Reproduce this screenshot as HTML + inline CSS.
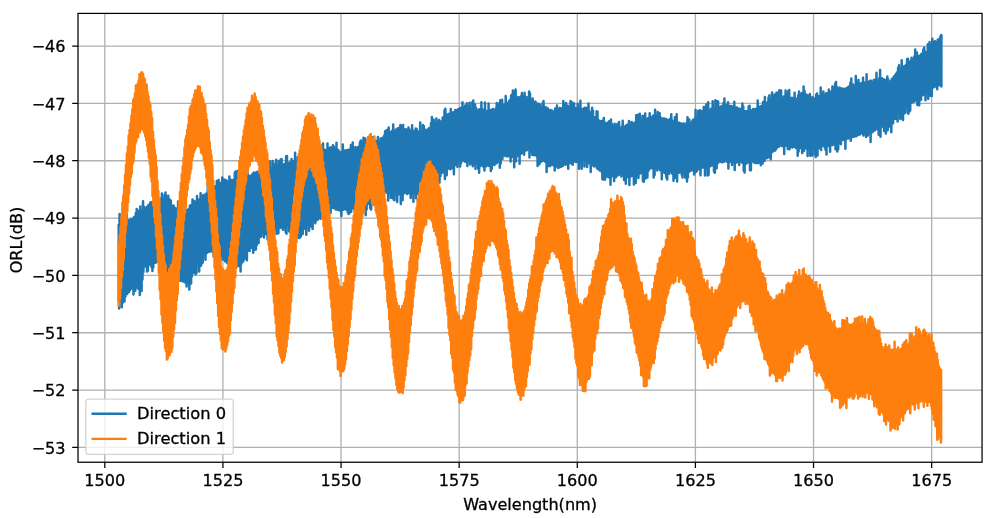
<!DOCTYPE html>
<html><head><meta charset="utf-8"><title>ORL vs Wavelength</title>
<style>html,body{margin:0;padding:0;background:#fff;overflow:hidden}svg{display:block}text{font-family:"DejaVu Sans","Liberation Sans",sans-serif;font-size:16.1px;fill:#000;stroke:#000;stroke-width:0.3px;stroke-linejoin:round}</style></head><body>
<svg width="991" height="518" viewBox="0 0 991 518">
<rect width="991" height="518" fill="#fff"/>
<defs><clipPath id="ax"><rect x="78.00" y="13.40" width="904.07" height="448.85"/></clipPath></defs>
<path d="M104.80 13.40V462.25M222.92 13.40V462.25M341.05 13.40V462.25M459.17 13.40V462.25M577.29 13.40V462.25M695.41 13.40V462.25M813.53 13.40V462.25M931.66 13.40V462.25M78.00 447.40H982.07M78.00 390.07H982.07M78.00 332.73H982.07M78.00 275.40H982.07M78.00 218.07H982.07M78.00 160.74H982.07M78.00 103.40H982.07M78.00 46.07H982.07" stroke="#b0b0b0" stroke-width="1.3" fill="none"/>
<g clip-path="url(#ax)" fill="none" stroke-linejoin="round" stroke-linecap="round" stroke-width="2.5">
<path d="M118.7 301.2L118.7 224.9 119.1 308.6 119.6 214.0 120.0 298.4 120.5 222.1 120.9 301.1 121.4 220.8 121.8 307.2 122.3 222.4 122.7 302.4 123.2 221.3 123.6 297.1 124.1 221.2 124.5 301.4 125.0 216.9 125.4 296.4 125.9 221.1 126.3 293.3 126.8 214.5 127.2 294.1 127.7 220.1 128.1 290.7 128.6 220.7 129.0 291.9 129.5 219.9 129.9 290.3 130.4 222.2 130.8 287.7 131.3 219.1 131.7 288.6 132.2 219.5 132.6 286.9 133.1 218.9 133.5 294.6 134.0 217.1 134.4 287.2 134.9 220.6 135.3 290.8 135.8 213.0 136.2 287.3 136.7 209.1 137.1 287.5 137.6 211.8 138.0 288.5 138.5 213.8 138.9 289.1 139.4 210.1 139.8 294.9 140.3 206.5 140.7 288.2 141.2 211.4 141.6 291.0 142.1 211.1 142.5 279.5 143.0 201.2 143.4 272.3 143.9 206.7 144.3 264.5 144.8 208.5 145.2 266.3 145.7 209.1 146.1 266.7 146.6 207.1 147.0 271.4 147.5 207.9 147.9 270.7 148.4 205.0 148.8 264.9 149.3 206.2 149.7 264.4 150.2 202.6 150.6 264.5 151.1 204.1 151.5 266.9 152.0 202.0 152.4 270.9 152.9 203.2 153.3 267.3 153.8 201.3 154.2 262.3 154.7 203.0 155.1 262.7 155.6 201.3 156.0 262.5 156.5 200.3 156.9 260.8 157.4 200.7 157.8 260.6 158.3 201.2 158.7 262.0 159.2 199.7 159.6 270.3 160.1 198.8 160.5 269.0 161.0 200.1 161.4 265.2 161.9 193.5 162.3 265.8 162.8 198.7 163.2 265.2 163.7 198.7 164.1 271.5 164.6 194.7 165.0 267.2 165.5 192.6 165.9 268.4 166.4 200.4 166.8 271.0 167.3 196.0 167.7 276.8 168.2 195.8 168.6 270.6 169.1 198.7 169.5 271.4 170.0 203.8 170.4 271.0 170.9 200.6 171.3 272.9 171.8 205.8 172.2 278.7 172.7 206.3 173.1 273.0 173.6 205.6 174.0 274.8 174.5 209.2 174.9 273.3 175.4 207.9 175.8 275.1 176.3 209.8 176.7 276.4 177.2 209.7 177.6 276.3 178.1 201.5 178.5 277.5 179.0 210.8 179.4 277.4 179.9 209.4 180.3 280.9 180.8 210.2 181.2 280.6 181.7 211.3 182.1 277.2 182.6 214.0 183.0 281.6 183.5 203.8 183.9 280.7 184.4 213.2 184.8 281.5 185.3 210.3 185.7 283.0 186.2 211.0 186.6 286.5 187.1 209.8 187.5 282.6 188.0 209.5 188.4 282.1 188.9 209.1 189.3 289.6 189.8 205.8 190.2 280.2 190.7 205.2 191.1 283.6 191.6 205.6 192.0 276.2 192.5 199.6 192.9 272.9 193.4 206.8 193.8 272.6 194.3 200.9 194.7 271.2 195.2 203.2 195.6 274.3 196.1 202.7 196.5 273.1 197.0 196.1 197.4 263.9 197.9 199.7 198.3 263.9 198.8 199.4 199.2 271.6 199.7 199.3 200.1 257.8 200.6 193.2 201.0 265.7 201.5 196.5 201.9 263.6 202.4 196.5 202.8 262.5 203.3 195.0 203.7 252.8 204.2 195.3 204.6 254.1 205.1 194.7 205.5 259.8 206.0 194.1 206.4 252.9 206.9 192.6 207.3 252.7 207.8 183.9 208.2 251.0 208.7 190.0 209.1 251.7 209.6 190.7 210.0 250.3 210.5 192.2 210.9 251.3 211.4 187.3 211.8 251.6 212.3 180.5 212.7 249.9 213.2 188.0 213.6 256.5 214.1 187.7 214.5 253.2 215.0 186.8 215.4 261.1 215.9 186.1 216.3 261.7 216.8 181.1 217.2 261.1 217.7 187.8 218.1 260.9 218.6 180.1 219.0 264.9 219.5 185.2 219.9 256.0 220.4 182.9 220.8 258.6 221.3 183.9 221.7 259.5 222.2 177.4 222.6 258.7 223.1 182.2 223.5 259.5 224.0 179.4 224.4 259.8 224.9 182.2 225.3 261.4 225.8 179.9 226.2 261.8 226.7 180.8 227.1 262.9 227.6 183.0 228.0 261.8 228.5 181.7 228.9 272.3 229.4 176.6 229.8 262.9 230.3 179.9 230.7 271.8 231.2 180.1 231.6 262.5 232.1 182.5 232.5 270.9 233.0 179.9 233.4 262.4 233.9 179.5 234.3 264.4 234.8 172.5 235.2 265.0 235.7 171.4 236.1 267.8 236.6 178.8 237.0 265.4 237.5 170.9 237.9 265.7 238.4 179.0 238.8 265.0 239.3 176.9 239.7 266.4 240.2 174.2 240.6 271.4 241.1 177.4 241.5 263.6 242.0 176.4 242.4 261.0 242.9 176.9 243.3 261.5 243.8 175.8 244.2 259.2 244.7 168.9 245.1 256.3 245.6 177.7 246.0 258.0 246.5 172.3 246.9 260.2 247.4 170.0 247.8 250.6 248.3 175.0 248.7 248.6 249.2 176.1 249.6 250.9 250.1 176.3 250.5 247.5 251.0 176.0 251.4 246.9 251.9 174.4 252.3 248.1 252.8 176.0 253.2 252.8 253.7 172.6 254.1 249.9 254.6 174.0 255.0 248.7 255.5 172.7 255.9 249.6 256.4 172.4 256.8 244.9 257.3 171.8 257.7 238.3 258.2 173.1 258.6 242.9 259.1 172.2 259.5 235.8 260.0 168.2 260.4 237.1 260.9 170.3 261.3 236.6 261.8 170.3 262.2 233.0 262.7 161.8 263.1 233.0 263.6 171.0 264.0 237.4 264.5 169.4 264.9 232.4 265.4 166.6 265.8 234.1 266.3 168.3 266.7 231.6 267.2 169.2 267.6 239.6 268.1 161.7 268.5 229.8 269.0 161.0 269.4 228.3 269.9 161.3 270.3 235.5 270.8 167.8 271.2 228.9 271.7 168.5 272.1 235.2 272.6 160.9 273.0 231.7 273.5 163.2 273.9 234.3 274.4 167.6 274.8 225.2 275.3 165.2 275.7 226.4 276.2 159.7 276.6 233.7 277.1 165.6 277.5 225.6 278.0 167.9 278.4 233.3 278.9 161.0 279.3 226.2 279.8 164.6 280.2 227.7 280.7 159.4 281.1 226.8 281.6 158.9 282.0 227.2 282.5 164.6 282.9 229.7 283.4 165.6 283.8 227.4 284.3 164.1 284.7 226.0 285.2 163.7 285.6 232.0 286.1 156.2 286.5 233.7 287.0 155.9 287.4 225.0 287.9 163.2 288.3 225.6 288.8 162.7 289.2 231.5 289.7 162.6 290.1 226.2 290.6 162.9 291.0 227.1 291.5 159.0 291.9 226.2 292.4 163.3 292.8 226.8 293.3 161.1 293.7 228.4 294.2 161.3 294.6 228.8 295.1 152.8 295.5 228.5 296.0 161.2 296.4 230.8 296.9 161.7 297.3 230.1 297.8 157.3 298.2 237.6 298.7 161.8 299.1 237.9 299.6 161.8 300.0 237.5 300.5 160.5 300.9 236.3 301.4 154.8 301.8 231.4 302.3 156.0 302.7 234.1 303.2 159.1 303.6 228.9 304.1 159.1 304.5 228.6 305.0 157.9 305.4 227.3 305.9 160.3 306.3 234.8 306.8 155.4 307.2 224.0 307.7 157.2 308.1 224.8 308.6 157.0 309.0 230.7 309.5 156.0 309.9 222.9 310.4 157.3 310.8 226.6 311.3 155.2 311.7 221.5 312.2 156.2 312.6 229.0 313.1 148.1 313.5 218.6 314.0 155.6 314.4 220.2 314.9 153.7 315.3 223.2 315.8 154.8 316.2 220.7 316.7 151.0 317.1 217.4 317.6 154.9 318.0 219.5 318.5 153.1 318.9 217.9 319.4 153.0 319.8 216.4 320.3 152.1 320.7 218.8 321.2 145.8 321.6 211.4 322.1 151.8 322.5 212.0 323.0 143.4 323.4 211.0 323.9 151.5 324.3 211.4 324.8 149.7 325.2 205.5 325.7 150.5 326.1 206.9 326.6 150.1 327.0 213.1 327.5 143.4 327.9 206.4 328.4 148.4 328.8 205.3 329.3 151.7 329.7 207.5 330.2 147.5 330.6 212.9 331.1 147.4 331.5 207.6 332.0 148.3 332.4 207.1 332.9 145.3 333.3 208.0 333.8 146.6 334.2 208.3 334.7 148.4 335.1 208.1 335.6 149.9 336.0 209.6 336.5 142.7 336.9 208.9 337.4 151.0 337.8 209.7 338.3 150.0 338.7 208.8 339.2 151.7 339.6 210.6 340.1 153.8 340.5 210.1 341.0 152.0 341.4 215.9 341.9 152.8 342.3 208.5 342.8 144.5 343.2 209.7 343.7 150.5 344.1 209.0 344.6 150.4 345.0 208.4 345.5 150.6 345.9 209.4 346.4 150.2 346.8 207.9 347.3 150.2 347.7 212.3 348.2 149.8 348.6 214.0 349.1 149.8 349.5 213.1 350.0 149.8 350.4 210.4 350.9 144.9 351.3 211.7 351.8 146.4 352.2 207.3 352.7 142.6 353.1 207.7 353.6 148.4 354.0 209.3 354.5 149.3 354.9 205.2 355.4 146.9 355.8 206.3 356.3 147.7 356.7 204.9 357.2 148.5 357.6 204.8 358.1 147.1 358.5 204.4 359.0 146.5 359.4 206.3 359.9 142.3 360.3 205.8 360.8 140.5 361.2 203.3 361.7 141.9 362.1 210.0 362.6 147.4 363.0 203.5 363.5 137.8 363.9 205.9 364.4 144.7 364.8 203.3 365.3 138.5 365.7 215.2 366.2 143.2 366.6 209.6 367.1 144.3 367.5 202.2 368.0 141.9 368.4 203.8 368.9 143.0 369.3 203.9 369.8 144.1 370.2 208.2 370.7 144.9 371.1 209.5 371.6 145.3 372.0 204.2 372.5 137.3 372.9 202.6 373.4 142.1 373.8 201.5 374.3 142.0 374.7 202.2 375.2 141.1 375.6 200.0 376.1 141.1 376.5 199.8 377.0 141.0 377.4 208.4 377.9 137.0 378.3 207.4 378.8 143.0 379.2 196.2 379.7 141.7 380.1 199.5 380.6 138.4 381.0 195.2 381.5 138.8 381.9 203.8 382.4 137.8 382.8 193.1 383.3 137.6 383.7 189.6 384.2 135.6 384.6 192.1 385.1 131.3 385.5 191.8 386.0 130.5 386.4 192.4 386.9 130.3 387.3 192.5 387.8 129.4 388.2 200.5 388.7 127.5 389.1 192.4 389.6 132.6 390.0 192.5 390.5 132.1 390.9 197.8 391.4 132.4 391.8 197.7 392.3 130.6 392.7 192.4 393.2 124.5 393.6 199.5 394.1 132.2 394.5 200.3 395.0 131.7 395.4 192.2 395.9 129.6 396.3 192.5 396.8 130.4 397.2 202.0 397.7 128.2 398.1 193.3 398.6 128.1 399.0 194.2 399.5 128.7 399.9 194.0 400.4 125.0 400.8 203.9 401.3 126.4 401.7 198.3 402.2 125.4 402.6 200.2 403.1 124.9 403.5 193.4 404.0 130.2 404.4 193.1 404.9 129.2 405.3 192.3 405.8 129.9 406.2 191.3 406.7 129.6 407.1 194.0 407.6 131.0 408.0 192.6 408.5 127.5 408.9 192.9 409.4 129.6 409.8 193.5 410.3 130.4 410.7 198.0 411.2 131.7 411.6 193.5 412.1 125.2 412.5 193.6 413.0 130.6 413.4 201.7 413.9 131.0 414.3 191.2 414.8 132.4 415.2 192.5 415.7 128.5 416.1 198.2 416.6 128.8 417.0 192.3 417.5 133.8 417.9 193.7 418.4 131.6 418.8 189.6 419.3 131.7 419.7 187.3 420.2 122.5 420.6 189.2 421.1 131.1 421.5 188.4 422.0 131.0 422.4 186.2 422.9 125.1 423.3 187.1 423.8 125.9 424.2 194.3 424.7 131.2 425.1 185.1 425.6 129.8 426.0 184.7 426.5 131.0 426.9 193.4 427.4 130.0 427.8 186.4 428.3 129.1 428.7 191.7 429.2 128.1 429.6 183.2 430.1 127.7 430.5 180.0 431.0 123.2 431.4 179.0 431.9 117.1 432.3 184.6 432.8 125.8 433.2 186.9 433.7 119.7 434.1 178.6 434.6 123.8 435.0 178.3 435.5 123.2 435.9 175.0 436.4 118.4 436.8 176.2 437.3 121.3 437.7 181.4 438.2 122.8 438.6 175.0 439.1 120.1 439.5 182.8 440.0 121.5 440.4 176.3 440.9 122.6 441.3 171.2 441.8 120.9 442.2 172.8 442.7 117.5 443.1 172.1 443.6 118.7 444.0 170.8 444.5 110.3 444.9 179.0 445.4 108.7 445.8 171.3 446.3 117.1 446.7 175.2 447.2 114.5 447.6 167.9 448.1 114.6 448.5 168.4 449.0 113.8 449.4 166.7 449.9 113.6 450.3 169.2 450.8 109.1 451.2 166.7 451.7 112.4 452.1 168.3 452.6 112.5 453.0 167.7 453.5 112.3 453.9 174.3 454.4 112.6 454.8 164.2 455.3 110.1 455.7 165.0 456.2 110.5 456.6 164.2 457.1 109.9 457.5 166.9 458.0 109.2 458.4 160.6 458.9 109.0 459.3 159.9 459.8 108.3 460.2 166.5 460.7 109.1 461.1 162.8 461.6 107.6 462.0 158.2 462.5 102.2 462.9 160.5 463.4 109.3 463.8 159.9 464.3 107.4 464.7 161.6 465.2 105.4 465.6 160.0 466.1 109.1 466.5 162.3 467.0 103.3 467.4 165.9 467.9 106.8 468.3 160.9 468.8 106.8 469.2 160.7 469.7 102.8 470.1 164.5 470.6 108.9 471.0 163.3 471.5 109.1 471.9 162.9 472.4 102.0 472.8 166.2 473.3 100.5 473.7 163.2 474.2 108.0 474.6 163.4 475.1 104.5 475.5 168.9 476.0 108.1 476.4 163.6 476.9 112.7 477.3 162.6 477.8 110.8 478.2 168.5 478.7 109.6 479.1 172.8 479.6 109.2 480.0 166.2 480.5 110.4 480.9 165.1 481.4 102.3 481.8 163.9 482.3 109.3 482.7 166.2 483.2 110.1 483.6 164.6 484.1 110.5 484.5 170.5 485.0 102.6 485.4 165.5 485.9 110.7 486.3 166.3 486.8 111.1 487.2 165.0 487.7 112.2 488.1 165.1 488.6 103.5 489.0 166.1 489.5 110.3 489.9 165.4 490.4 112.1 490.8 171.0 491.3 109.7 491.7 168.9 492.2 110.1 492.6 164.8 493.1 109.0 493.5 164.4 494.0 110.6 494.4 165.0 494.9 110.6 495.3 163.6 495.8 108.6 496.2 163.5 496.7 103.0 497.1 162.5 497.6 105.2 498.0 161.5 498.5 107.4 498.9 158.3 499.4 103.1 499.8 167.8 500.3 100.2 500.7 163.5 501.2 106.2 501.6 156.8 502.1 99.7 502.5 158.8 503.0 106.3 503.4 155.1 503.9 105.1 504.3 154.4 504.8 104.5 505.2 156.1 505.7 95.9 506.1 155.8 506.6 102.5 507.0 156.2 507.5 103.9 507.9 154.5 508.4 103.1 508.8 156.2 509.3 100.6 509.7 155.8 510.2 100.1 510.6 161.4 511.1 95.6 511.5 157.2 512.0 94.4 512.4 156.6 512.9 90.6 513.3 155.1 513.8 91.6 514.2 167.3 514.7 97.9 515.1 156.0 515.6 89.6 516.0 161.2 516.5 97.8 516.9 156.2 517.4 97.1 517.8 155.6 518.3 97.5 518.7 153.9 519.2 98.7 519.6 163.8 520.1 96.9 520.5 152.8 521.0 96.2 521.4 153.4 521.9 92.9 522.3 151.1 522.8 96.0 523.2 152.7 523.7 96.3 524.1 154.7 524.6 92.8 525.0 150.8 525.5 97.8 525.9 150.4 526.4 97.1 526.8 150.2 527.3 97.6 527.7 148.1 528.2 99.8 528.6 149.3 529.1 91.5 529.5 157.4 530.0 93.2 530.4 151.3 530.9 99.8 531.3 151.2 531.8 100.8 532.2 154.8 532.7 98.4 533.1 152.9 533.6 102.7 534.0 155.3 534.5 102.0 534.9 153.2 535.4 101.4 535.8 154.8 536.3 103.5 536.7 156.3 537.2 103.5 537.6 166.0 538.1 103.9 538.5 157.9 539.0 103.9 539.4 164.3 539.9 104.5 540.3 158.2 540.8 107.4 541.2 161.8 541.7 109.1 542.1 158.2 542.6 103.2 543.0 160.5 543.5 101.1 543.9 159.9 544.4 106.8 544.8 161.5 545.3 108.0 545.7 161.1 546.2 107.4 546.6 172.1 547.1 109.0 547.5 160.0 548.0 108.6 548.4 165.9 548.9 110.3 549.3 163.7 549.8 111.6 550.2 166.1 550.7 109.9 551.1 164.5 551.6 112.1 552.0 163.4 552.5 110.7 552.9 165.1 553.4 111.9 553.8 164.4 554.3 112.0 554.7 170.5 555.2 108.6 555.6 165.5 556.1 110.4 556.5 164.4 557.0 105.6 557.4 167.3 557.9 109.8 558.3 168.0 558.8 109.6 559.2 167.3 559.7 108.1 560.1 167.0 560.6 108.3 561.0 166.7 561.5 108.5 561.9 166.0 562.4 107.9 562.8 166.1 563.3 100.9 563.7 163.9 564.2 105.7 564.6 163.8 565.1 104.6 565.5 164.8 566.0 102.9 566.4 163.9 566.9 106.4 567.3 161.5 567.8 105.7 568.2 168.8 568.7 107.1 569.1 163.0 569.6 107.1 570.0 162.4 570.5 101.1 570.9 163.2 571.4 107.2 571.8 163.1 572.3 102.5 572.7 164.7 573.2 108.5 573.6 160.6 574.1 103.4 574.5 161.3 575.0 109.4 575.4 161.7 575.9 108.3 576.3 162.0 576.8 108.8 577.2 160.3 577.7 103.8 578.1 161.5 578.6 108.7 579.0 168.8 579.5 110.0 579.9 157.1 580.4 100.7 580.8 162.9 581.3 108.7 581.7 168.8 582.2 111.3 582.6 155.6 583.1 109.2 583.5 157.9 584.0 108.2 584.4 166.6 584.9 107.8 585.3 160.8 585.8 109.3 586.2 161.0 586.7 108.1 587.1 166.9 587.6 107.5 588.0 161.2 588.5 103.5 588.9 163.2 589.4 111.3 589.8 162.2 590.3 113.4 590.7 171.9 591.2 114.1 591.6 164.9 592.1 107.8 592.5 165.3 593.0 110.7 593.4 165.6 593.9 117.7 594.3 166.4 594.8 117.2 595.2 165.5 595.7 118.1 596.1 165.1 596.6 111.2 597.0 168.2 597.5 111.4 597.9 169.0 598.4 119.9 598.8 169.2 599.3 121.3 599.7 170.4 600.2 121.1 600.6 169.4 601.1 121.4 601.5 171.6 602.0 121.1 602.4 179.2 602.9 120.4 603.3 179.5 603.8 118.1 604.2 174.6 604.7 122.5 605.1 179.5 605.6 123.3 606.0 174.6 606.5 123.5 606.9 176.6 607.4 122.8 607.8 174.5 608.3 123.1 608.7 177.2 609.2 121.2 609.6 175.8 610.1 124.4 610.5 184.7 611.0 119.4 611.4 176.7 611.9 124.1 612.3 175.3 612.8 125.8 613.2 174.5 613.7 127.0 614.1 180.9 614.6 123.7 615.0 175.8 615.5 125.4 615.9 177.3 616.4 125.9 616.8 175.3 617.3 124.1 617.7 175.5 618.2 127.3 618.6 174.5 619.1 122.1 619.5 174.5 620.0 128.4 620.4 174.5 620.9 128.6 621.3 176.6 621.8 126.8 622.2 174.9 622.7 120.8 623.1 175.1 623.6 127.5 624.0 180.1 624.5 127.1 624.9 177.4 625.4 125.9 625.8 183.8 626.3 125.3 626.7 177.2 627.2 124.8 627.6 175.5 628.1 125.0 628.5 177.1 629.0 120.9 629.4 185.1 629.9 123.7 630.3 175.9 630.8 123.4 631.2 176.2 631.7 122.1 632.1 175.2 632.6 123.9 633.0 175.7 633.5 124.3 633.9 184.6 634.4 122.7 634.8 175.6 635.3 123.5 635.7 183.0 636.2 115.3 636.6 174.5 637.1 124.0 637.5 173.4 638.0 114.7 638.4 178.1 638.9 121.4 639.3 171.2 639.8 113.8 640.2 173.5 640.7 122.3 641.1 172.3 641.6 120.5 642.0 172.8 642.5 116.0 642.9 181.0 643.4 115.9 643.8 181.8 644.3 119.2 644.7 169.0 645.2 113.5 645.6 178.5 646.1 119.0 646.5 176.1 647.0 119.8 647.4 177.4 647.9 118.3 648.3 170.9 648.8 117.7 649.2 169.3 649.7 113.3 650.1 166.2 650.6 117.9 651.0 168.3 651.5 117.4 651.9 167.9 652.4 116.6 652.8 167.9 653.3 115.6 653.7 177.4 654.2 115.6 654.6 175.1 655.1 109.7 655.5 167.4 656.0 116.2 656.4 168.2 656.9 115.6 657.3 170.5 657.8 111.9 658.2 168.3 658.7 117.9 659.1 168.2 659.6 113.2 660.0 170.1 660.5 117.2 660.9 170.6 661.4 118.6 661.8 179.3 662.3 118.7 662.7 171.1 663.2 118.6 663.6 170.8 664.1 118.4 664.5 173.1 665.0 119.1 665.4 172.5 665.9 118.9 666.3 177.4 666.8 119.6 667.2 179.5 667.7 119.8 668.1 171.5 668.6 120.4 669.0 173.7 669.5 119.7 669.9 171.0 670.4 118.4 670.8 171.2 671.3 114.3 671.7 173.1 672.2 120.4 672.6 174.0 673.1 121.5 673.5 180.8 674.0 121.6 674.4 176.3 674.9 117.3 675.3 177.8 675.8 122.4 676.2 176.4 676.7 114.3 677.1 181.4 677.6 125.5 678.0 172.9 678.5 122.8 678.9 172.7 679.4 122.8 679.8 171.4 680.3 124.5 680.7 171.2 681.2 123.6 681.6 174.4 682.1 123.8 682.5 177.6 683.0 124.5 683.4 172.7 683.9 123.6 684.3 173.3 684.8 124.8 685.2 177.4 685.7 124.5 686.1 177.3 686.6 123.1 687.0 181.6 687.5 117.2 687.9 177.4 688.4 122.9 688.8 171.8 689.3 119.4 689.7 171.3 690.2 123.7 690.6 170.6 691.1 124.0 691.5 168.8 692.0 121.6 692.4 170.2 692.9 120.1 693.3 170.4 693.8 120.0 694.2 174.4 694.7 118.5 695.1 168.9 695.6 110.1 696.0 171.8 696.5 118.7 696.9 171.0 697.4 116.9 697.8 169.3 698.3 110.8 698.7 169.1 699.2 114.7 699.6 167.5 700.1 110.2 700.5 175.2 701.0 113.5 701.4 167.3 701.9 111.3 702.3 167.4 702.8 113.8 703.2 167.4 703.7 107.1 704.1 166.8 704.6 112.2 705.0 175.4 705.5 106.8 705.9 167.5 706.4 104.2 706.8 165.5 707.3 111.2 707.7 175.4 708.2 102.2 708.6 174.7 709.1 110.4 709.5 165.3 710.0 110.4 710.4 166.2 710.9 108.7 711.3 164.7 711.8 109.5 712.2 165.2 712.7 101.3 713.1 164.9 713.6 107.9 714.0 171.7 714.5 111.5 714.9 172.7 715.4 100.3 715.8 162.7 716.3 108.1 716.7 168.2 717.2 101.2 717.6 163.3 718.1 101.6 718.5 162.5 719.0 107.6 719.4 160.2 719.9 107.3 720.3 161.0 720.8 106.6 721.2 162.1 721.7 106.7 722.1 162.2 722.6 105.7 723.0 162.1 723.5 103.0 723.9 161.7 724.4 98.4 724.8 160.5 725.3 104.9 725.7 160.2 726.2 105.1 726.6 161.4 727.1 105.3 727.5 161.8 728.0 102.2 728.4 168.5 728.9 105.8 729.3 161.9 729.8 106.7 730.2 161.4 730.7 106.0 731.1 161.1 731.6 105.9 732.0 165.1 732.5 107.4 732.9 162.0 733.4 107.4 733.8 162.0 734.3 101.8 734.7 170.0 735.2 107.3 735.6 161.5 736.1 108.3 736.5 162.6 737.0 107.6 737.4 161.7 737.9 109.4 738.3 161.4 738.8 108.8 739.2 164.9 739.7 108.7 740.1 161.3 740.6 109.0 741.0 161.3 741.5 110.3 741.9 162.4 742.4 103.4 742.8 162.2 743.3 106.4 743.7 170.7 744.2 111.5 744.6 172.6 745.1 111.2 745.5 163.5 746.0 111.2 746.4 163.4 746.9 111.3 747.3 160.9 747.8 112.5 748.2 162.2 748.7 106.2 749.1 162.7 749.6 105.8 750.0 170.3 750.5 109.9 750.9 170.3 751.4 110.5 751.8 161.1 752.3 110.4 752.7 160.2 753.2 109.0 753.6 162.2 754.1 110.0 754.5 162.1 755.0 109.3 755.4 162.9 755.9 110.5 756.3 163.1 756.8 108.3 757.2 162.7 757.7 100.4 758.1 163.1 758.6 107.2 759.0 160.9 759.5 107.6 759.9 162.4 760.4 106.2 760.8 165.2 761.3 106.2 761.7 160.4 762.2 105.4 762.6 163.5 763.1 101.9 763.5 160.9 764.0 103.8 764.4 161.0 764.9 97.1 765.3 158.7 765.8 103.0 766.2 158.3 766.7 103.5 767.1 158.0 767.6 102.2 768.0 154.4 768.5 97.6 768.9 157.3 769.4 95.2 769.8 154.5 770.3 100.3 770.7 159.3 771.2 101.6 771.6 151.2 772.1 92.4 772.5 152.0 773.0 99.4 773.4 150.9 773.9 95.7 774.3 149.1 774.8 94.5 775.2 150.4 775.7 94.5 776.1 149.0 776.6 92.5 777.0 147.5 777.5 92.8 777.9 145.8 778.4 97.4 778.8 146.8 779.3 90.2 779.7 144.8 780.2 98.6 780.6 145.0 781.1 90.4 781.5 145.9 782.0 99.3 782.4 145.1 782.9 97.9 783.3 145.9 783.8 96.4 784.2 154.1 784.7 97.0 785.1 145.4 785.6 90.6 786.0 144.2 786.5 96.8 786.9 145.6 787.4 93.8 787.8 148.9 788.3 90.9 788.7 146.3 789.2 90.0 789.6 149.3 790.1 100.1 790.5 146.7 791.0 98.0 791.4 145.0 791.9 97.7 792.3 147.6 792.8 98.0 793.2 146.8 793.7 98.8 794.1 146.2 794.6 92.8 795.0 146.7 795.5 99.4 795.9 147.9 796.4 99.4 796.8 145.9 797.3 98.2 797.7 155.8 798.2 95.2 798.6 151.5 799.1 91.4 799.5 146.2 800.0 94.0 800.4 148.1 800.9 95.3 801.3 146.8 801.8 93.3 802.2 153.1 802.7 96.2 803.1 147.1 803.6 86.4 804.0 151.0 804.5 91.1 804.9 147.5 805.4 94.8 805.8 148.3 806.3 94.6 806.7 147.9 807.2 95.2 807.6 156.1 808.1 96.1 808.5 147.5 809.0 95.5 809.4 148.4 809.9 94.0 810.3 155.8 810.8 98.2 811.2 148.3 811.7 98.2 812.1 155.5 812.6 97.0 813.0 148.0 813.5 98.8 813.9 147.2 814.4 99.2 814.8 154.4 815.3 98.3 815.7 156.9 816.2 94.4 816.6 151.3 817.1 93.4 817.5 155.4 818.0 97.5 818.4 145.3 818.9 96.2 819.3 147.9 819.8 95.9 820.2 145.9 820.7 87.5 821.1 150.1 821.6 94.3 822.0 145.9 822.5 93.8 822.9 144.3 823.4 91.6 823.8 145.6 824.3 95.0 824.7 147.5 825.2 95.3 825.6 150.1 826.1 93.3 826.5 154.4 827.0 93.5 827.4 144.3 827.9 93.2 828.3 146.0 828.8 89.5 829.2 145.1 829.7 92.8 830.1 151.7 830.6 91.7 831.0 145.2 831.5 93.4 831.9 144.2 832.4 86.6 832.8 145.1 833.3 87.3 833.7 143.3 834.2 90.4 834.6 143.8 835.1 83.8 835.5 149.3 836.0 82.1 836.4 143.4 836.9 86.9 837.3 151.5 837.8 89.6 838.2 149.2 838.7 91.8 839.1 142.8 839.6 87.6 840.0 142.0 840.5 88.2 840.9 144.3 841.4 88.9 841.8 139.7 842.3 88.4 842.7 139.9 843.2 88.7 843.6 138.7 844.1 90.1 844.5 139.6 845.0 88.8 845.4 148.7 845.9 89.6 846.3 138.1 846.8 87.9 847.2 138.5 847.7 87.5 848.1 138.5 848.6 86.4 849.0 136.4 849.5 88.7 849.9 137.8 850.4 82.6 850.8 140.7 851.3 78.6 851.7 136.3 852.2 84.9 852.6 137.1 853.1 84.6 853.5 134.6 854.0 87.0 854.4 136.4 854.9 86.2 855.3 136.1 855.8 76.0 856.2 136.2 856.7 81.9 857.1 135.4 857.6 84.1 858.0 135.0 858.5 79.9 858.9 133.9 859.4 84.0 859.8 134.4 860.3 83.6 860.7 133.1 861.2 83.3 861.6 133.3 862.1 83.2 862.5 132.1 863.0 77.8 863.4 135.5 863.9 82.3 864.3 133.9 864.8 82.4 865.2 131.2 865.7 82.8 866.1 137.1 866.6 74.3 867.0 131.9 867.5 82.8 867.9 135.4 868.4 82.5 868.8 132.2 869.3 81.3 869.7 130.7 870.2 80.8 870.6 142.0 871.1 80.7 871.5 131.7 872.0 83.7 872.4 132.3 872.9 82.2 873.3 130.9 873.8 80.1 874.2 130.2 874.7 80.2 875.1 130.2 875.6 79.3 876.0 128.4 876.5 72.7 876.9 128.2 877.4 80.6 877.8 129.4 878.3 80.5 878.7 134.8 879.2 78.3 879.6 128.6 880.1 70.0 880.5 136.8 881.0 80.8 881.4 126.7 881.9 78.3 882.3 126.4 882.8 80.1 883.2 126.1 883.7 79.3 884.1 131.1 884.6 80.1 885.0 126.9 885.5 81.5 885.9 133.4 886.4 79.6 886.8 125.0 887.3 76.6 887.7 130.3 888.2 79.3 888.6 125.2 889.1 82.6 889.5 126.6 890.0 81.5 890.4 122.8 890.9 81.0 891.3 132.3 891.8 79.1 892.2 123.3 892.7 79.6 893.1 123.2 893.6 77.1 894.0 117.9 894.5 75.9 894.9 118.8 895.4 74.7 895.8 118.8 896.3 73.6 896.7 116.7 897.2 72.2 897.6 121.4 898.1 67.8 898.5 113.6 899.0 65.3 899.4 112.4 899.9 69.4 900.3 118.9 900.8 71.9 901.2 118.0 901.7 60.3 902.1 108.2 902.6 68.6 903.0 119.9 903.5 67.0 903.9 108.7 904.4 65.9 904.8 113.3 905.3 66.8 905.7 107.1 906.2 64.7 906.6 106.1 907.1 59.0 907.5 112.6 908.0 58.8 908.4 113.7 908.9 62.4 909.3 111.5 909.8 63.0 910.2 110.6 910.7 60.8 911.1 102.9 911.6 57.8 912.0 102.6 912.5 59.3 912.9 101.8 913.4 59.2 913.8 101.8 914.3 56.6 914.7 101.2 915.2 49.6 915.6 98.6 916.1 57.9 916.5 99.2 917.0 52.5 917.4 104.9 917.9 55.8 918.3 102.9 918.8 56.1 919.2 105.2 919.7 56.0 920.1 96.1 920.6 55.1 921.0 99.8 921.5 53.8 921.9 94.1 922.4 54.4 922.8 95.2 923.3 49.5 923.7 93.9 924.2 47.5 924.6 92.4 925.1 51.8 925.5 100.3 926.0 52.4 926.4 90.4 926.9 51.9 927.3 89.6 927.8 44.3 928.2 98.8 928.7 50.1 929.1 88.7 929.6 42.0 930.0 95.7 930.5 46.5 930.9 87.4 931.4 44.9 931.8 96.0 932.3 38.8 932.7 87.8 933.2 44.1 933.6 86.6 934.1 42.0 934.5 87.0 935.0 41.3 935.4 86.1 935.9 41.9 936.3 85.8 936.8 43.0 937.2 89.2 937.7 39.7 938.1 83.4 938.6 39.9 939.0 85.2 939.5 38.7 939.9 83.8 940.4 36.2 940.8 82.4 941.3 40.1 941.4 35.0 941.4 86.6" stroke="#1f77b4"/>
<path d="M118.8 305.6L118.8 243.6 119.2 303.4 119.7 235.0 120.1 298.6 120.6 227.3 121.0 287.8 121.5 216.5 121.9 276.8 122.4 202.6 122.8 270.1 123.3 195.4 123.7 259.5 124.2 185.6 124.6 247.2 125.1 174.8 125.5 232.6 126.0 164.8 126.4 224.5 126.9 153.4 127.3 211.4 127.8 146.8 128.2 202.2 128.7 135.5 129.1 193.4 129.6 129.9 130.0 185.3 130.5 123.3 130.9 177.1 131.4 115.8 131.8 173.2 132.3 109.6 132.7 163.5 133.2 99.9 133.6 161.3 134.1 98.2 134.5 152.5 135.0 93.5 135.4 143.8 135.9 85.4 136.3 141.3 136.8 86.0 137.2 137.5 137.7 83.7 138.1 137.1 138.6 80.6 139.0 132.0 139.5 74.2 139.9 132.2 140.4 75.3 140.8 128.7 141.3 72.6 141.7 127.8 142.2 72.5 142.6 129.1 143.1 73.9 143.5 130.8 144.0 77.9 144.4 132.7 144.9 79.6 145.3 136.3 145.8 84.1 146.2 139.9 146.7 84.8 147.1 145.6 147.6 92.2 148.0 151.4 148.5 96.2 148.9 157.9 149.4 102.1 149.8 164.3 150.3 104.8 150.7 176.6 151.2 111.8 151.6 181.3 152.1 118.3 152.5 196.1 153.0 131.7 153.4 205.5 153.9 140.3 154.3 216.8 154.8 149.8 155.2 223.3 155.7 155.4 156.1 237.0 156.6 167.0 157.0 248.3 157.5 181.1 157.9 260.2 158.4 191.2 158.8 273.1 159.3 199.1 159.7 289.8 160.2 214.1 160.6 299.2 161.1 226.3 161.5 314.4 162.0 235.7 162.4 322.5 162.9 245.8 163.3 331.8 163.8 255.1 164.2 340.5 164.7 262.4 165.1 347.9 165.6 265.6 166.0 351.3 166.5 272.8 166.9 359.4 167.4 274.1 167.8 358.3 168.3 275.4 168.7 354.9 169.2 269.2 169.6 355.3 170.1 268.4 170.5 351.9 171.0 265.6 171.4 351.9 171.9 265.1 172.3 347.7 172.8 260.5 173.2 336.7 173.7 252.3 174.1 329.3 174.6 245.3 175.0 323.1 175.5 236.2 175.9 310.4 176.4 228.0 176.8 300.3 177.3 219.2 177.7 294.1 178.2 210.3 178.6 280.7 179.1 200.9 179.5 269.0 180.0 192.0 180.4 259.2 180.9 183.2 181.3 249.5 181.8 174.3 182.2 237.9 182.7 166.2 183.1 230.5 183.6 157.7 184.0 220.6 184.5 147.4 184.9 212.6 185.4 139.3 185.8 207.5 186.3 136.0 186.7 196.1 187.2 129.9 187.6 189.3 188.1 125.0 188.5 182.5 189.0 116.2 189.4 179.1 189.9 108.7 190.3 172.7 190.8 106.3 191.2 168.7 191.7 105.2 192.1 159.8 192.6 100.1 193.0 156.4 193.5 98.6 193.9 152.0 194.4 94.0 194.8 150.1 195.3 90.6 195.7 148.0 196.2 92.6 196.6 145.9 197.1 90.0 197.5 145.0 198.0 86.2 198.4 145.8 198.9 87.2 199.3 145.6 199.8 86.8 200.2 147.6 200.7 93.6 201.1 152.6 201.6 93.1 202.0 150.5 202.5 97.2 202.9 154.8 203.4 99.7 203.8 159.8 204.3 104.6 204.7 164.9 205.2 105.1 205.6 169.3 206.1 114.0 206.5 177.5 207.0 119.8 207.4 185.1 207.9 127.4 208.3 192.3 208.8 130.4 209.2 202.1 209.7 142.3 210.1 211.3 210.6 150.1 211.0 221.8 211.5 155.4 211.9 232.5 212.4 165.6 212.8 245.6 213.3 180.7 213.7 255.9 214.2 190.4 214.6 267.8 215.1 201.3 215.5 279.0 216.0 208.8 216.4 291.5 216.9 217.9 217.3 303.2 217.8 234.5 218.2 316.1 218.7 243.2 219.1 326.9 219.6 246.6 220.0 333.7 220.5 258.3 220.9 340.4 221.4 266.9 221.8 348.4 222.3 272.0 222.7 347.2 223.2 269.6 223.6 349.6 224.1 275.0 224.5 349.7 225.0 271.3 225.4 351.5 225.9 270.7 226.3 348.4 226.8 269.7 227.2 344.9 227.7 267.6 228.1 341.0 228.6 262.3 229.0 335.5 229.5 256.4 229.9 333.2 230.4 248.7 230.8 320.2 231.3 242.1 231.7 311.8 232.2 232.7 232.6 303.2 233.1 224.1 233.5 293.1 234.0 215.2 234.4 288.0 234.9 206.9 235.3 277.0 235.8 197.9 236.2 267.0 236.7 188.6 237.1 253.7 237.6 180.3 238.0 245.0 238.5 172.8 238.9 236.1 239.4 161.1 239.8 226.9 240.3 156.4 240.7 221.4 241.2 150.4 241.6 210.1 242.1 143.1 242.5 203.4 243.0 136.5 243.4 199.1 243.9 130.5 244.3 190.1 244.8 126.0 245.2 184.2 245.7 120.2 246.1 180.8 246.6 113.5 247.0 174.0 247.5 107.7 247.9 169.9 248.4 108.6 248.8 166.6 249.3 103.5 249.7 165.5 250.2 103.5 250.6 159.8 251.1 101.7 251.5 157.2 252.0 95.8 252.4 161.0 252.9 99.9 253.3 154.8 253.8 99.1 254.2 154.0 254.7 93.4 255.1 156.4 255.6 97.0 256.0 160.6 256.5 100.8 256.9 158.5 257.4 101.3 257.8 161.6 258.3 104.3 258.7 164.7 259.2 104.6 259.6 172.8 260.1 111.0 260.5 173.7 261.0 111.4 261.4 178.3 261.9 117.9 262.3 186.4 262.8 125.8 263.2 195.2 263.7 130.2 264.1 196.4 264.6 137.4 265.0 204.5 265.5 142.7 265.9 216.6 266.4 149.9 266.8 221.3 267.3 153.6 267.7 229.9 268.2 161.1 268.6 244.8 269.1 174.9 269.5 250.0 270.0 179.9 270.4 260.0 270.9 192.3 271.3 270.4 271.8 198.5 272.2 280.6 272.7 211.8 273.1 293.8 273.6 220.9 274.0 302.4 274.5 231.4 274.9 314.8 275.4 240.3 275.8 323.1 276.3 248.1 276.7 336.2 277.2 251.9 277.6 340.5 278.1 263.7 278.5 346.0 279.0 268.4 279.4 352.6 279.9 274.4 280.3 355.7 280.8 274.2 281.2 358.1 281.7 278.8 282.1 362.4 282.6 279.0 283.0 357.1 283.5 278.1 283.9 360.1 284.4 274.3 284.8 356.8 285.3 270.4 285.7 351.7 286.2 269.2 286.6 346.4 287.1 259.7 287.5 339.1 288.0 256.2 288.4 331.4 288.9 244.9 289.3 323.6 289.8 239.5 290.2 311.7 290.7 231.0 291.1 301.7 291.6 222.5 292.0 291.8 292.5 212.6 292.9 281.3 293.4 205.0 293.8 271.7 294.3 196.0 294.7 265.4 295.2 187.8 295.6 251.9 296.1 180.2 296.5 242.0 297.0 171.2 297.4 233.7 297.9 161.8 298.3 226.0 298.8 154.3 299.2 219.9 299.7 150.6 300.1 209.1 300.6 145.6 301.0 201.3 301.5 139.9 301.9 196.1 302.4 133.2 302.8 190.4 303.3 131.1 303.7 185.3 304.2 126.7 304.6 181.0 305.1 119.6 305.5 178.1 306.0 116.8 306.4 176.0 306.9 118.9 307.3 170.1 307.8 115.2 308.2 168.9 308.7 113.0 309.1 166.2 309.6 115.9 310.0 166.4 310.5 117.0 310.9 165.7 311.4 114.6 311.8 170.6 312.3 118.0 312.7 169.4 313.2 115.6 313.6 175.8 314.1 120.4 314.5 173.7 315.0 118.0 315.4 177.9 315.9 123.9 316.3 182.2 316.8 128.6 317.2 183.4 317.7 128.8 318.1 189.2 318.6 136.8 319.0 193.2 319.5 140.7 319.9 198.5 320.4 145.7 320.8 203.4 321.3 146.2 321.7 210.8 322.2 151.7 322.6 218.6 323.1 162.1 323.5 226.0 324.0 168.7 324.4 235.9 324.9 173.2 325.3 240.9 325.8 177.9 326.2 250.5 326.7 189.7 327.1 262.3 327.6 197.1 328.0 268.7 328.5 205.1 328.9 277.8 329.4 213.3 329.8 288.8 330.3 221.1 330.7 298.4 331.2 227.7 331.6 307.5 332.1 233.7 332.5 320.1 333.0 245.5 333.4 330.1 333.9 252.9 334.3 336.4 334.8 260.2 335.2 346.9 335.7 266.8 336.1 352.2 336.6 272.9 337.0 357.8 337.5 278.2 337.9 369.1 338.4 280.1 338.8 368.4 339.3 286.1 339.7 370.6 340.2 287.1 340.6 376.0 341.1 287.5 341.5 371.7 342.0 287.6 342.4 370.6 342.9 286.9 343.3 371.0 343.8 283.1 344.2 369.0 344.7 282.4 345.1 364.4 345.6 275.7 346.0 359.3 346.5 273.4 346.9 350.9 347.4 265.2 347.8 344.3 348.3 261.4 348.7 336.0 349.2 251.8 349.6 326.8 350.1 248.3 350.5 318.9 351.0 237.9 351.4 309.4 351.9 233.8 352.3 298.7 352.8 224.7 353.2 290.9 353.7 215.7 354.1 280.2 354.6 210.1 355.0 275.9 355.5 204.6 355.9 264.3 356.4 191.5 356.8 256.1 357.3 187.5 357.7 248.5 358.2 181.4 358.6 242.0 359.1 175.0 359.5 236.0 360.0 172.4 360.4 228.6 360.9 167.0 361.3 224.4 361.8 159.2 362.2 217.4 362.7 158.4 363.1 212.9 363.6 154.1 364.0 211.2 364.5 151.9 364.9 205.1 365.4 148.2 365.8 203.3 366.3 144.7 366.7 200.3 367.2 140.2 367.6 200.8 368.1 137.1 368.5 197.5 369.0 139.6 369.4 198.3 369.9 135.1 370.3 196.7 370.8 134.0 371.2 197.3 371.7 139.2 372.1 203.4 372.6 141.3 373.0 203.1 373.5 138.0 373.9 204.9 374.4 136.4 374.8 204.7 375.3 143.1 375.7 210.5 376.2 145.9 376.6 213.2 377.1 148.9 377.5 217.1 378.0 150.6 378.4 225.5 378.9 157.2 379.3 227.4 379.8 163.5 380.2 236.8 380.7 167.4 381.1 239.6 381.6 172.7 382.0 246.4 382.5 178.5 382.9 255.6 383.4 185.8 383.8 261.3 384.3 193.0 384.7 276.2 385.2 199.8 385.6 279.9 386.1 206.1 386.5 289.1 387.0 217.0 387.4 301.7 387.9 225.4 388.3 307.3 388.8 234.9 389.2 319.2 389.7 242.2 390.1 329.4 390.6 251.4 391.0 336.8 391.5 260.2 391.9 347.3 392.4 269.1 392.8 357.9 393.3 274.8 393.7 364.9 394.2 283.3 394.6 372.2 395.1 291.8 395.5 378.6 396.0 298.9 396.4 385.0 396.9 303.0 397.3 389.1 397.8 307.2 398.2 391.8 398.7 306.1 399.1 392.4 399.6 310.2 400.0 391.9 400.5 310.2 400.9 392.1 401.4 308.9 401.8 392.0 402.3 306.0 402.7 392.9 403.2 306.9 403.6 387.6 404.1 302.6 404.5 380.0 405.0 298.7 405.4 374.9 405.9 291.9 406.3 366.3 406.8 281.1 407.2 358.9 407.7 279.1 408.1 353.4 408.6 272.2 409.0 341.9 409.5 261.5 409.9 331.8 410.4 257.4 410.8 325.1 411.3 250.2 411.7 314.5 412.2 242.6 412.6 307.5 413.1 235.9 413.5 296.5 414.0 228.6 414.4 287.9 414.9 222.6 415.3 280.6 415.8 212.7 416.2 273.1 416.7 207.7 417.1 270.6 417.6 199.4 418.0 258.5 418.5 198.7 418.9 252.4 419.4 192.9 419.8 251.4 420.3 183.5 420.7 244.9 421.2 183.9 421.6 241.5 422.1 180.7 422.5 232.6 423.0 177.9 423.4 228.4 423.9 171.9 424.3 225.8 424.8 172.1 425.2 222.8 425.7 168.9 426.1 224.6 426.6 164.5 427.0 218.3 427.5 165.6 427.9 217.7 428.4 162.2 428.8 218.1 429.3 164.6 429.7 216.0 430.2 161.4 430.6 219.0 431.1 164.9 431.5 220.0 432.0 165.5 432.4 221.7 432.9 166.8 433.3 227.1 433.8 167.5 434.2 230.7 434.7 171.6 435.1 228.7 435.6 170.6 436.0 234.8 436.5 176.6 436.9 236.6 437.4 174.1 437.8 244.6 438.3 182.8 438.7 245.0 439.2 186.9 439.6 250.9 440.1 189.1 440.5 256.9 441.0 195.0 441.4 263.3 441.9 203.2 442.3 268.5 442.8 205.8 443.2 275.6 443.7 215.5 444.1 283.0 444.6 221.2 445.0 290.9 445.5 223.7 445.9 300.8 446.4 231.8 446.8 305.9 447.3 240.9 447.7 314.6 448.2 250.4 448.6 327.9 449.1 257.5 449.5 334.7 450.0 262.4 450.4 340.3 450.9 272.8 451.3 353.8 451.8 279.6 452.2 357.9 452.7 286.7 453.1 369.7 453.6 293.9 454.0 372.3 454.5 295.9 454.9 382.6 455.4 306.6 455.8 389.7 456.3 312.0 456.7 390.5 457.2 313.4 457.6 394.6 458.1 317.0 458.5 396.5 459.0 316.3 459.4 402.3 459.9 321.5 460.3 402.6 460.8 321.5 461.2 399.9 461.7 320.6 462.1 396.7 462.6 319.9 463.0 400.0 463.5 315.7 463.9 396.4 464.4 315.7 464.8 395.3 465.3 312.2 465.7 384.7 466.2 306.4 466.6 383.3 467.1 299.1 467.5 372.6 468.0 293.4 468.4 366.1 468.9 285.2 469.3 360.3 469.8 283.4 470.2 355.5 470.7 276.2 471.1 349.3 471.6 269.1 472.0 335.9 472.5 262.7 472.9 328.2 473.4 257.0 473.8 320.3 474.3 250.7 474.7 318.5 475.2 239.4 475.6 309.7 476.1 231.9 476.5 299.0 477.0 231.3 477.4 293.5 477.9 221.6 478.3 289.1 478.8 220.4 479.2 281.3 479.7 215.9 480.1 275.8 480.6 211.5 481.0 276.0 481.5 207.3 481.9 265.2 482.4 201.5 482.8 260.4 483.3 197.7 483.7 260.9 484.2 195.7 484.6 253.2 485.1 191.0 485.5 251.3 486.0 192.7 486.4 248.1 486.9 183.3 487.3 245.0 487.8 187.4 488.2 244.4 488.7 180.9 489.1 244.0 489.6 184.8 490.0 245.4 490.5 185.3 490.9 240.6 491.4 181.0 491.8 239.7 492.3 183.9 492.7 240.8 493.2 184.6 493.6 240.3 494.1 185.7 494.5 243.0 495.0 188.7 495.4 244.4 495.9 190.3 496.3 247.2 496.8 187.2 497.2 249.2 497.7 189.0 498.1 255.2 498.6 198.5 499.0 257.2 499.5 201.9 499.9 264.3 500.4 204.1 500.8 269.4 501.3 208.3 501.7 270.2 502.2 209.1 502.6 277.8 503.1 213.2 503.5 281.3 504.0 221.0 504.4 290.4 504.9 228.7 505.3 294.5 505.8 230.4 506.2 301.8 506.7 240.4 507.1 309.2 507.6 244.8 508.0 317.0 508.5 249.9 508.9 328.6 509.4 260.1 509.8 332.8 510.3 266.5 510.7 341.2 511.2 273.1 511.6 348.9 512.1 279.8 512.5 356.9 513.0 286.9 513.4 367.8 513.9 293.1 514.3 371.9 514.8 299.3 515.2 380.0 515.7 304.1 516.1 383.7 516.6 303.7 517.0 388.6 517.5 309.1 517.9 391.9 518.4 313.5 518.8 394.5 519.3 314.6 519.7 395.0 520.2 312.0 520.6 399.8 521.1 315.4 521.5 394.9 522.0 314.2 522.4 393.1 522.9 313.1 523.3 395.8 523.8 311.5 524.2 389.9 524.7 310.5 525.1 387.0 525.6 306.5 526.0 386.0 526.5 302.0 526.9 376.9 527.4 298.2 527.8 371.1 528.3 290.0 528.7 364.9 529.2 283.5 529.6 364.6 530.1 279.7 530.5 353.2 531.0 276.3 531.4 348.9 531.9 266.4 532.3 339.3 532.8 266.5 533.2 332.9 533.7 260.5 534.1 325.4 534.6 254.9 535.0 319.3 535.5 250.8 535.9 313.1 536.4 237.6 536.8 310.8 537.3 238.1 537.7 301.0 538.2 234.1 538.6 296.9 539.1 228.0 539.5 291.7 540.0 224.0 540.4 285.3 540.9 220.5 541.3 281.6 541.8 215.5 542.2 279.5 542.7 212.5 543.1 271.4 543.6 204.6 544.0 268.0 544.5 206.0 544.9 266.2 545.4 202.9 545.8 262.9 546.3 200.6 546.7 257.7 547.2 198.6 547.6 263.0 548.1 193.8 548.5 254.6 549.0 195.4 549.4 258.5 549.9 191.0 550.3 252.3 550.8 192.1 551.2 250.9 551.7 188.5 552.1 251.1 552.6 186.0 553.0 250.4 553.5 190.1 553.9 250.1 554.4 187.3 554.8 253.3 555.3 192.3 555.7 251.9 556.2 193.3 556.6 257.3 557.1 194.8 557.5 255.7 558.0 196.5 558.4 256.5 558.9 193.9 559.3 259.4 559.8 201.0 560.2 262.3 560.7 206.5 561.1 268.5 561.6 207.5 562.0 268.0 562.5 211.5 562.9 272.8 563.4 215.4 563.8 280.1 564.3 220.5 564.7 280.1 565.2 224.8 565.6 286.2 566.1 229.6 566.5 293.5 567.0 236.1 567.4 296.7 567.9 234.4 568.3 302.8 568.8 239.9 569.2 313.2 569.7 251.7 570.1 313.8 570.6 258.0 571.0 320.7 571.5 257.8 571.9 327.3 572.4 271.7 572.8 337.1 573.3 276.5 573.7 341.3 574.2 282.2 574.6 347.6 575.1 288.9 575.5 358.4 576.0 294.7 576.4 363.0 576.9 298.1 577.3 365.7 577.8 299.5 578.2 376.1 578.7 305.2 579.1 378.6 579.6 306.3 580.0 384.9 580.5 303.7 580.9 383.5 581.4 308.4 581.8 384.5 582.3 306.5 582.7 390.8 583.2 305.1 583.6 391.1 584.1 300.6 584.5 385.8 585.0 298.9 585.4 390.9 585.9 299.5 586.3 382.1 586.8 298.3 587.2 379.4 587.7 297.3 588.1 377.2 588.6 294.7 589.0 378.8 589.5 287.0 589.9 376.6 590.4 286.2 590.8 365.4 591.3 284.5 591.7 365.2 592.2 279.1 592.6 353.0 593.1 271.3 593.5 349.6 594.0 271.6 594.4 350.4 594.9 267.4 595.3 338.6 595.8 261.0 596.2 331.6 596.7 260.6 597.1 333.0 597.6 258.4 598.0 328.5 598.5 255.4 598.9 318.3 599.4 252.3 599.8 314.4 600.3 243.3 600.7 308.0 601.2 237.0 601.6 302.2 602.1 231.0 602.5 298.5 603.0 226.0 603.4 293.3 603.9 227.6 604.3 294.3 604.8 224.8 605.2 285.0 605.7 221.6 606.1 280.7 606.6 219.2 607.0 279.6 607.5 218.5 607.9 272.7 608.4 214.8 608.8 269.8 609.3 213.5 609.7 267.7 610.2 208.7 610.6 268.5 611.1 199.2 611.5 267.5 612.0 203.3 612.4 267.0 612.9 204.3 613.3 264.7 613.8 203.1 614.2 263.0 614.7 202.0 615.1 264.9 615.6 201.1 616.0 271.3 616.5 200.8 616.9 269.2 617.4 195.8 617.8 272.3 618.3 201.8 618.7 272.6 619.2 201.0 619.6 275.8 620.1 201.1 620.5 280.5 621.0 197.2 621.4 281.3 621.9 198.8 622.3 283.8 622.8 201.9 623.2 288.0 623.7 205.8 624.1 288.6 624.6 215.5 625.0 296.7 625.5 224.4 625.9 297.6 626.4 223.4 626.8 301.7 627.3 233.7 627.7 304.5 628.2 237.6 628.6 309.1 629.1 239.1 629.5 313.8 630.0 241.4 630.4 322.0 630.9 238.8 631.3 327.8 631.8 244.2 632.2 326.6 632.7 251.7 633.1 330.7 633.6 255.7 634.0 336.2 634.5 258.0 634.9 342.8 635.4 262.7 635.8 344.8 636.3 265.5 636.7 352.5 637.2 271.2 637.6 353.0 638.1 273.0 638.5 356.4 639.0 277.7 639.4 360.5 639.9 281.7 640.3 365.6 640.8 284.8 641.2 374.9 641.7 283.0 642.1 372.5 642.6 290.8 643.0 376.3 643.5 294.9 643.9 385.9 644.4 296.2 644.8 386.3 645.3 299.0 645.7 381.8 646.2 294.8 646.6 385.8 647.1 301.5 647.5 378.3 648.0 300.7 648.4 374.8 648.9 304.7 649.3 378.2 649.8 305.4 650.2 369.5 650.7 301.0 651.1 366.4 651.6 299.1 652.0 362.6 652.5 289.3 652.9 359.3 653.4 290.5 653.8 363.0 654.3 282.8 654.7 358.4 655.2 276.1 655.6 348.9 656.1 275.3 656.5 344.0 657.0 271.4 657.4 341.0 657.9 263.7 658.3 337.0 658.8 264.6 659.2 331.3 659.7 258.1 660.1 327.1 660.6 259.9 661.0 323.3 661.5 256.5 661.9 318.8 662.4 250.7 662.8 320.0 663.3 249.0 663.7 315.6 664.2 248.7 664.6 313.3 665.1 247.1 665.5 303.3 666.0 240.0 666.4 297.7 666.9 241.0 667.3 295.2 667.8 230.0 668.2 292.9 668.7 233.6 669.1 288.2 669.6 231.6 670.0 285.3 670.5 228.4 670.9 283.2 671.4 227.0 671.8 282.0 672.3 218.8 672.7 281.2 673.2 225.7 673.6 283.3 674.1 218.7 674.5 278.0 675.0 220.7 675.4 281.2 675.9 223.7 676.3 275.6 676.8 217.4 677.2 275.2 677.7 224.2 678.1 274.8 678.6 217.5 679.0 281.8 679.5 223.0 679.9 275.4 680.4 222.0 680.8 278.0 681.3 223.7 681.7 278.4 682.2 226.0 682.6 279.8 683.1 222.1 683.5 283.5 684.0 225.8 684.4 282.6 684.9 226.0 685.3 284.9 685.8 227.2 686.2 286.1 686.7 226.9 687.1 291.8 687.6 226.1 688.0 292.1 688.5 232.2 688.9 294.2 689.4 235.3 689.8 299.8 690.3 236.0 690.7 305.0 691.2 232.1 691.6 315.8 692.1 241.6 692.5 317.0 693.0 238.3 693.4 319.5 693.9 240.4 694.3 322.0 694.8 250.7 695.2 329.6 695.7 256.6 696.1 330.4 696.6 257.4 697.0 333.4 697.5 264.1 697.9 338.8 698.4 260.2 698.8 342.8 699.3 263.4 699.7 340.0 700.2 270.3 700.6 342.7 701.1 269.3 701.5 347.1 702.0 275.2 702.4 349.5 702.9 279.2 703.3 355.4 703.8 279.6 704.2 358.9 704.7 282.7 705.1 358.9 705.6 284.2 706.0 359.0 706.5 285.3 706.9 363.5 707.4 280.8 707.8 367.8 708.3 288.7 708.7 361.3 709.2 290.0 709.6 358.9 710.1 292.5 710.5 363.2 711.0 291.2 711.4 362.9 711.9 287.6 712.3 364.9 712.8 296.5 713.2 357.4 713.7 294.3 714.1 355.6 714.6 297.4 715.0 357.0 715.5 290.2 715.9 362.0 716.4 291.3 716.8 354.8 717.3 292.3 717.7 353.5 718.2 289.4 718.6 349.7 719.1 286.7 719.5 348.9 720.0 284.5 720.4 350.4 720.9 284.7 721.3 345.1 721.8 274.3 722.2 347.7 722.7 275.0 723.1 344.6 723.6 269.4 724.0 338.3 724.5 268.2 724.9 335.5 725.4 265.8 725.8 333.1 726.3 258.6 726.7 332.1 727.2 252.4 727.6 329.8 728.1 254.6 728.5 326.7 729.0 245.7 729.4 326.2 729.9 241.0 730.3 323.0 730.8 241.4 731.2 325.5 731.7 237.6 732.1 318.9 732.6 243.1 733.0 317.0 733.5 243.1 733.9 314.3 734.4 240.2 734.8 310.8 735.3 238.0 735.7 315.7 736.2 236.4 736.6 307.6 737.1 237.5 737.5 305.7 738.0 235.2 738.4 304.2 738.9 230.8 739.3 300.6 739.8 235.7 740.2 307.9 740.7 238.1 741.1 301.9 741.6 239.5 742.0 300.0 742.5 239.5 742.9 301.1 743.4 233.2 743.8 300.3 744.3 235.6 744.7 300.0 745.2 239.0 745.6 304.1 746.1 239.3 746.5 299.7 747.0 243.4 747.4 301.1 747.9 243.6 748.3 304.0 748.8 245.3 749.2 303.4 749.7 237.5 750.1 312.0 750.6 245.5 751.0 311.7 751.5 247.7 751.9 315.9 752.4 241.4 752.8 315.9 753.3 250.4 753.7 324.3 754.2 244.0 754.6 324.7 755.1 255.6 755.5 331.2 756.0 250.1 756.4 326.9 756.9 257.9 757.3 329.1 757.8 259.7 758.2 332.1 758.7 261.6 759.1 337.8 759.6 261.5 760.0 340.5 760.5 268.9 760.9 345.1 761.4 272.9 761.8 348.1 762.3 273.5 762.7 350.7 763.2 274.1 763.6 352.5 764.1 282.8 764.5 359.0 765.0 278.2 765.4 354.2 765.9 283.7 766.3 359.6 766.8 292.3 767.2 361.1 767.7 291.8 768.1 363.8 768.6 294.2 769.0 365.6 769.5 296.4 769.9 375.6 770.4 297.1 770.8 373.6 771.3 298.2 771.7 370.7 772.2 302.3 772.6 370.4 773.1 301.7 773.5 373.2 774.0 300.0 774.4 372.6 774.9 301.8 775.3 375.1 775.8 299.5 776.2 381.0 776.7 295.8 777.1 381.0 777.6 298.7 778.0 376.9 778.5 299.0 778.9 376.9 779.4 294.2 779.8 378.1 780.3 297.4 780.7 376.2 781.2 294.4 781.6 376.0 782.1 290.3 782.5 380.4 783.0 295.6 783.4 374.5 783.9 295.0 784.3 374.4 784.8 295.1 785.2 374.5 785.7 291.5 786.1 372.0 786.6 285.0 787.0 367.6 787.5 285.9 787.9 368.1 788.4 282.9 788.8 371.1 789.3 286.0 789.7 362.8 790.2 284.9 790.6 360.4 791.1 283.7 791.5 355.7 792.0 284.0 792.4 362.1 792.9 281.8 793.3 355.7 793.8 275.5 794.2 350.2 794.7 280.2 795.1 346.3 795.6 272.1 796.0 346.9 796.5 275.4 796.9 354.1 797.4 279.1 797.8 347.4 798.3 276.8 798.7 347.4 799.2 270.1 799.6 352.3 800.1 276.1 800.5 341.3 801.0 278.5 801.4 347.7 801.9 278.6 802.3 343.6 802.8 270.0 803.2 345.8 803.7 268.4 804.1 343.0 804.6 275.2 805.0 341.3 805.5 274.5 805.9 344.1 806.4 275.9 806.8 343.5 807.3 276.6 807.7 341.6 808.2 280.5 808.6 345.3 809.1 275.9 809.5 349.1 810.0 277.7 810.4 353.3 810.9 282.2 811.3 357.9 811.8 280.1 812.2 359.5 812.7 284.0 813.1 360.4 813.6 286.0 814.0 364.1 814.5 287.0 814.9 370.9 815.4 282.2 815.8 367.0 816.3 282.3 816.7 375.5 817.2 288.4 817.6 366.8 818.1 291.3 818.5 372.6 819.0 291.1 819.4 370.1 819.9 285.1 820.3 372.0 820.8 294.7 821.2 375.1 821.7 291.2 822.1 376.5 822.6 297.3 823.0 378.8 823.5 301.0 823.9 380.3 824.4 303.7 824.8 382.2 825.3 308.0 825.7 388.6 826.2 311.7 826.6 384.5 827.1 315.3 827.5 387.4 828.0 313.0 828.4 386.5 828.9 318.3 829.3 390.5 829.8 314.7 830.2 391.0 830.7 320.3 831.1 393.1 831.6 322.3 832.0 401.5 832.5 324.4 832.9 394.7 833.4 325.0 833.8 394.8 834.3 321.1 834.7 397.7 835.2 327.3 835.6 394.3 836.1 328.4 836.5 397.4 837.0 330.9 837.4 398.0 837.9 330.4 838.3 397.8 838.8 328.7 839.2 399.1 839.7 328.8 840.1 407.7 840.6 328.8 841.0 406.7 841.5 328.7 841.9 400.5 842.4 320.1 842.8 405.1 843.3 323.8 843.7 401.6 844.2 320.4 844.6 400.8 845.1 321.0 845.5 403.2 846.0 324.7 846.4 408.0 846.9 318.1 847.3 397.3 847.8 323.4 848.2 394.0 848.7 325.2 849.1 397.4 849.6 324.7 850.0 396.6 850.5 325.0 850.9 395.2 851.4 325.2 851.8 394.6 852.3 324.3 852.7 398.4 853.2 324.1 853.6 398.4 854.1 322.8 854.5 396.7 855.0 318.8 855.4 391.6 855.9 322.1 856.3 390.7 856.8 318.6 857.2 393.8 857.7 318.0 858.1 398.5 858.6 321.0 859.0 396.3 859.5 316.7 859.9 396.3 860.4 322.5 860.8 393.9 861.3 326.7 861.7 388.0 862.2 316.6 862.6 396.8 863.1 323.6 863.5 393.8 864.0 325.5 864.4 389.8 864.9 319.1 865.3 397.4 865.8 325.4 866.2 390.7 866.7 326.4 867.1 392.6 867.6 323.6 868.0 390.2 868.5 319.6 868.9 398.8 869.4 324.0 869.8 391.1 870.3 317.1 870.7 393.9 871.2 325.3 871.6 391.5 872.1 318.9 872.5 399.5 873.0 321.6 873.4 395.1 873.9 326.8 874.3 406.2 874.8 328.7 875.2 400.1 875.7 329.8 876.1 401.4 876.6 330.6 877.0 407.3 877.5 330.8 877.9 404.8 878.4 332.5 878.8 413.7 879.3 331.0 879.7 414.7 880.2 338.8 880.6 410.4 881.1 343.5 881.5 411.4 882.0 346.9 882.4 412.2 882.9 351.0 883.3 414.1 883.8 349.2 884.2 421.0 884.7 347.0 885.1 417.4 885.6 344.6 886.0 424.4 886.5 346.9 886.9 417.3 887.4 348.0 887.8 418.3 888.3 347.3 888.7 420.7 889.2 345.4 889.6 420.3 890.1 351.8 890.5 430.6 891.0 350.0 891.4 422.7 891.9 349.9 892.3 428.0 892.8 349.9 893.2 422.6 893.7 350.7 894.1 427.2 894.6 341.7 895.0 428.8 895.5 349.3 895.9 422.9 896.4 349.4 896.8 422.1 897.3 351.2 897.7 429.6 898.2 347.5 898.6 424.7 899.1 351.2 899.5 423.7 900.0 350.4 900.4 417.6 900.9 348.9 901.3 415.7 901.8 349.3 902.2 415.6 902.7 344.6 903.1 420.6 903.6 351.8 904.0 413.7 904.5 342.0 904.9 413.1 905.4 348.8 905.8 410.5 906.3 340.3 906.7 409.2 907.2 346.6 907.6 408.8 908.1 345.7 908.5 408.3 909.0 343.8 909.4 407.7 909.9 333.8 910.3 413.2 910.8 339.8 911.2 403.5 911.7 333.4 912.1 403.2 912.6 339.6 913.0 404.6 913.5 339.3 913.9 403.8 914.4 336.6 914.8 409.4 915.3 337.8 915.7 402.1 916.2 327.3 916.6 403.0 917.1 334.0 917.5 400.7 918.0 334.5 918.4 408.3 918.9 329.3 919.3 400.9 919.8 331.2 920.2 401.5 920.7 336.6 921.1 399.9 921.6 335.7 922.0 400.5 922.5 334.2 922.9 401.4 923.4 330.6 923.8 406.8 924.3 329.7 924.7 399.2 925.2 331.9 925.6 401.1 926.1 332.9 926.5 402.0 927.0 338.0 927.4 405.7 927.9 337.1 928.3 401.1 928.8 334.6 929.2 401.7 929.7 340.6 930.1 401.5 930.6 339.3 931.0 405.4 931.5 334.3 931.9 409.3 932.4 342.1 932.8 414.1 933.3 343.0 933.7 419.4 934.2 347.4 934.6 419.9 935.1 351.8 935.5 425.9 936.0 355.5 936.4 426.8 936.9 353.8 937.3 439.7 937.8 360.1 938.2 438.7 938.7 365.9 939.1 435.2 939.6 368.3 940.0 436.5 940.5 370.6 940.9 442.6 941.1 370.1 941.1 439.7" stroke="#ff7f0e"/>
</g>
<path d="M104.80 462.25v5.8M222.92 462.25v5.8M341.05 462.25v5.8M459.17 462.25v5.8M577.29 462.25v5.8M695.41 462.25v5.8M813.53 462.25v5.8M931.66 462.25v5.8M78.00 447.40h-5.8M78.00 390.07h-5.8M78.00 332.73h-5.8M78.00 275.40h-5.8M78.00 218.07h-5.8M78.00 160.74h-5.8M78.00 103.40h-5.8M78.00 46.07h-5.8" stroke="#000" stroke-width="1.25" fill="none"/>
<rect x="78.00" y="13.40" width="904.07" height="448.85" fill="none" stroke="#000" stroke-width="1.25"/>
<text x="104.80" y="486.2" text-anchor="middle">1500</text>
<text x="222.92" y="486.2" text-anchor="middle">1525</text>
<text x="341.05" y="486.2" text-anchor="middle">1550</text>
<text x="459.17" y="486.2" text-anchor="middle">1575</text>
<text x="577.29" y="486.2" text-anchor="middle">1600</text>
<text x="695.41" y="486.2" text-anchor="middle">1625</text>
<text x="813.53" y="486.2" text-anchor="middle">1650</text>
<text x="931.66" y="486.2" text-anchor="middle">1675</text>
<text x="65.6" y="453.70" text-anchor="end">−53</text>
<text x="65.6" y="396.37" text-anchor="end">−52</text>
<text x="65.6" y="339.03" text-anchor="end">−51</text>
<text x="65.6" y="281.70" text-anchor="end">−50</text>
<text x="65.6" y="224.37" text-anchor="end">−49</text>
<text x="65.6" y="167.04" text-anchor="end">−48</text>
<text x="65.6" y="109.70" text-anchor="end">−47</text>
<text x="65.6" y="52.37" text-anchor="end">−46</text>
<text x="530.1" y="509.6" text-anchor="middle">Wavelength(nm)</text>
<text transform="translate(22.2 240.0) rotate(-90)" text-anchor="middle">ORL(dB)</text>
<rect x="85.8" y="399.2" width="147.5" height="55.1" rx="3" ry="3" fill="#fff" fill-opacity="0.8" stroke="#ccc" stroke-opacity="0.85" stroke-width="1.3"/>
<path d="M91.5 413.8h35.2" stroke="#1f77b4" stroke-width="2.4"/>
<path d="M91.5 438.9h35.2" stroke="#ff7f0e" stroke-width="2.4"/>
<text x="137.0" y="419.3" style="font-size:16.3px">Direction 0</text>
<text x="137.0" y="444.4" style="font-size:16.3px">Direction 1</text>
</svg></body></html>
